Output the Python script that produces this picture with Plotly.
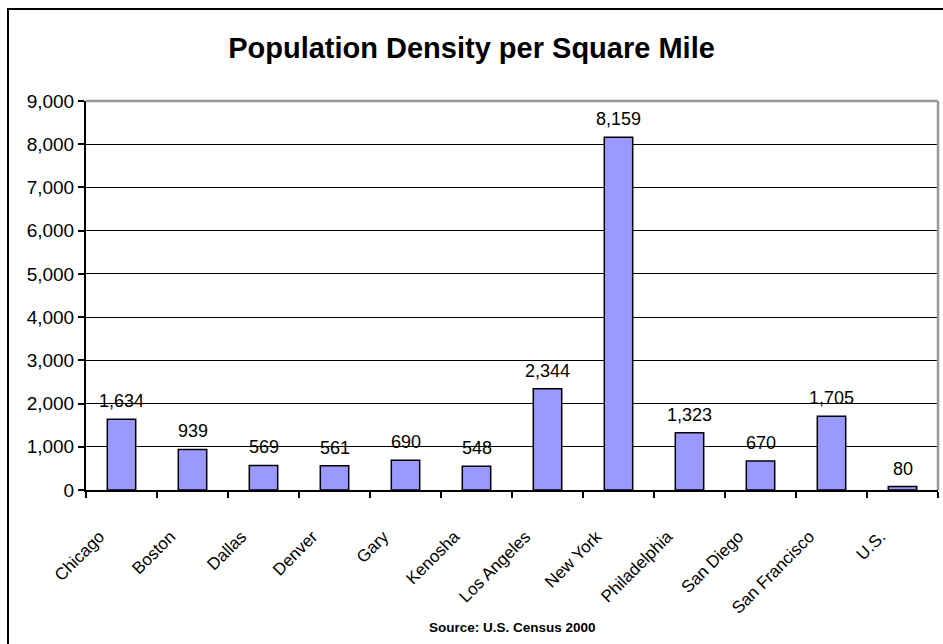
import plotly.graph_objects as go

cities = ["Chicago", "Boston", "Dallas", "Denver", "Gary", "Kenosha",
          "Los Angeles", "New York", "Philadelphia", "San Diego",
          "San Francisco", "U.S."]
density = [1634, 939, 569, 561, 690, 548, 2344, 8159, 1323, 670, 1705, 80]
y_ticks = [0, 1000, 2000, 3000, 4000, 5000, 6000, 7000, 8000, 9000]

FONT = "Liberation Sans, Arial, sans-serif"
W, H = 943, 644

fig = go.Figure(
    go.Bar(
        x=cities,
        y=density,
        marker=dict(color="#9999FF", line=dict(color="black", width=1.5)),
        hoverinfo="x+y",
    )
)

# value labels above each bar
for c, v in zip(cities, density):
    fig.add_annotation(
        x=c, y=v, text=f"{v:,}",
        xref="x", yref="y",
        yanchor="bottom", yshift=6,
        showarrow=False,
        font=dict(family=FONT, size=18, color="black"),
    )

fig.update_layout(
    width=W,
    height=H,
    margin=dict(l=86, r=5, t=101, b=154),
    paper_bgcolor="white",
    plot_bgcolor="white",
    bargap=0.6,
    showlegend=False,
    font=dict(family=FONT, color="black"),
    title=dict(
        text="<b>Population Density per Square Mile</b>",
        x=0.5,
        xanchor="center",
        y=1 - 48 / H,
        yref="container",
        yanchor="middle",
        font=dict(family=FONT, size=29, color="black"),
    ),
)

fig.update_yaxes(
    range=[0, 9000],
    tickvals=y_ticks,
    tickformat=",",
    tickfont=dict(family=FONT, size=19, color="black"),
    showgrid=True,
    gridcolor="black",
    gridwidth=1,
    showline=True,
    linecolor="black",
    linewidth=2,
    ticks="outside",
    ticklen=6,
    tickwidth=2,
    tickcolor="black",
    zeroline=False,
    fixedrange=True,
)

fig.update_xaxes(
    tickangle=-45,
    tickfont=dict(family=FONT, size=17, color="black"),
    showline=True,
    linecolor="black",
    linewidth=2,
    ticks="outside",
    tickson="boundaries",
    ticklen=6,
    tickwidth=2,
    tickcolor="black",
    ticklabelstandoff=28,
    ticklabelshift=-22,
    showgrid=False,
    fixedrange=True,
)

# grey plot-area border on the top and right sides
fig.add_shape(type="line", xref="paper", yref="paper", x0=0, x1=1, y0=1, y1=1,
              line=dict(color="#999999", width=2.5), layer="above")
fig.add_shape(type="line", xref="paper", yref="paper", x0=1, x1=1, y0=0, y1=1,
              line=dict(color="#999999", width=2.5), layer="above")

# outer chart frame
fig.add_shape(type="rect", xref="paper", yref="paper",
              x0=-78 / 852, x1=1.2, y0=-1, y1=1 + 92 / 389,
              line=dict(color="black", width=2), layer="above")

fig.add_annotation(
    text="<b>Source: U.S. Census 2000</b>",
    xref="paper", yref="paper",
    x=(512 - 86) / 852, y=-(627 - 490) / 389,
    xanchor="center", yanchor="middle",
    showarrow=False,
    font=dict(family=FONT, size=13.5, color="black"),
)

fig.write_html("out.html")
